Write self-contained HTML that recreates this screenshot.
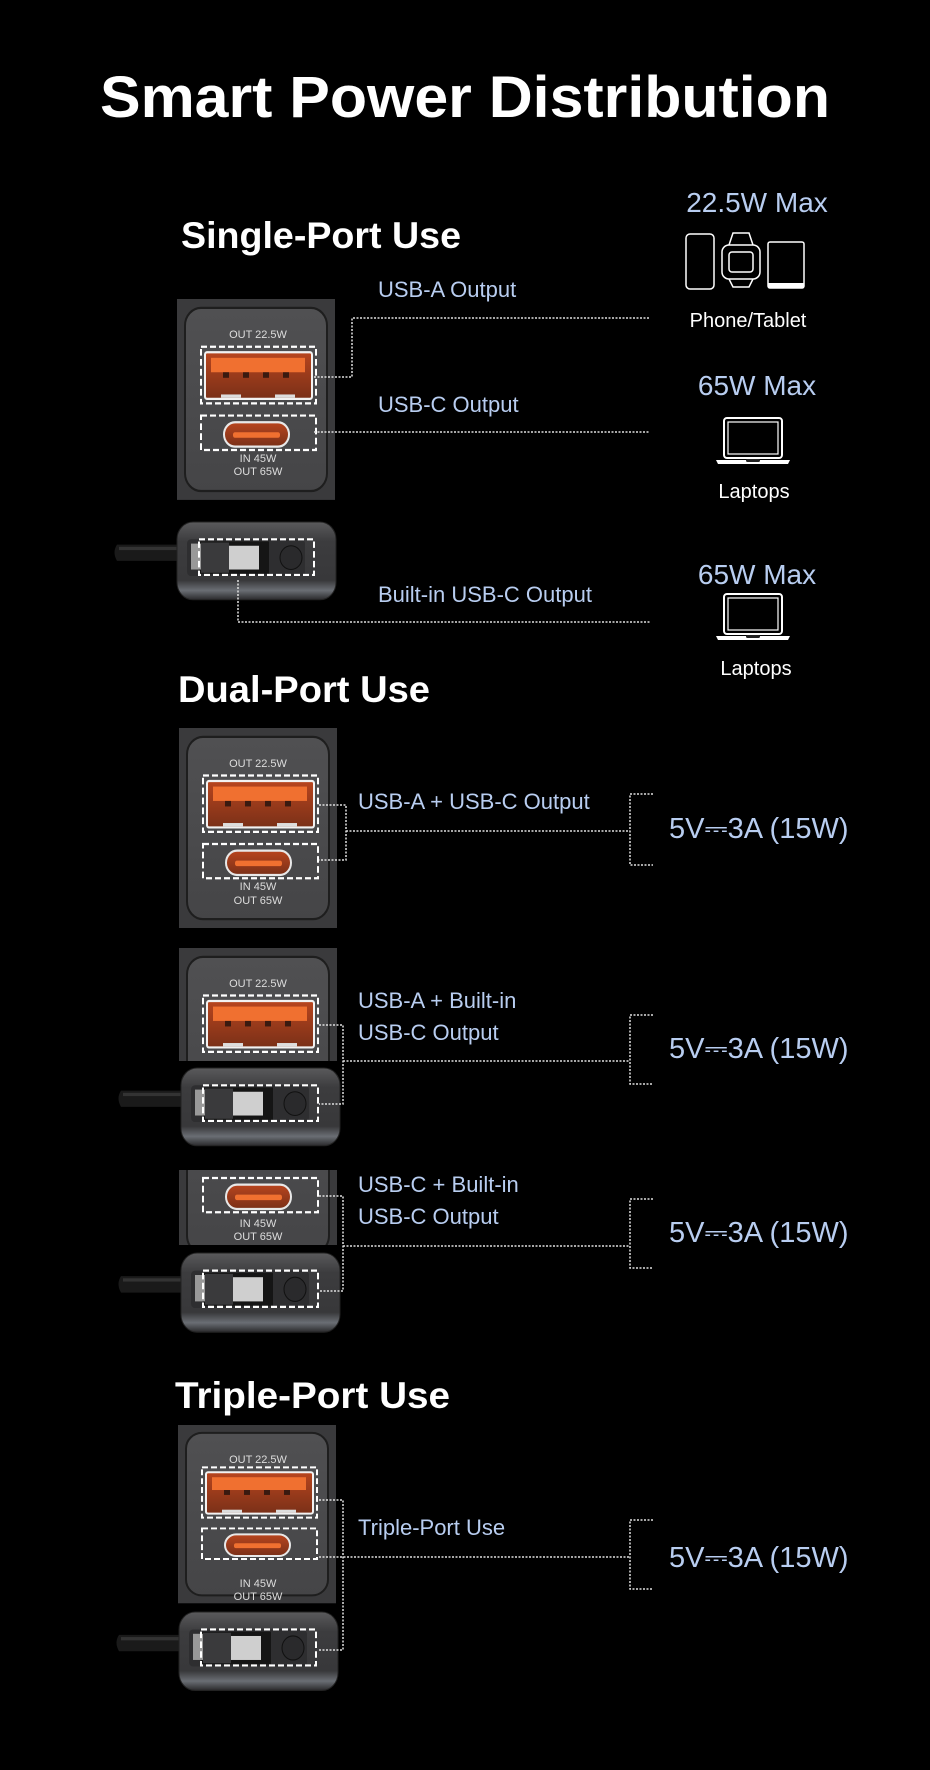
<!DOCTYPE html>
<html><head><meta charset="utf-8"><style>
html,body{margin:0;padding:0;background:#000;}
svg{display:block;}
text{font-family:"Liberation Sans","DejaVu Sans",sans-serif;}
</style></head><body>
<svg width="930" height="1770" viewBox="0 0 930 1770" xmlns="http://www.w3.org/2000/svg">
<defs>
  <linearGradient id="gpanel" x1="0" y1="0" x2="0" y2="1">
    <stop offset="0" stop-color="#505052"/><stop offset="1" stop-color="#454547"/>
  </linearGradient>
  <linearGradient id="gport" x1="0" y1="0" x2="0" y2="1">
    <stop offset="0" stop-color="#b8451e"/><stop offset="1" stop-color="#7a3018"/>
  </linearGradient>
  <linearGradient id="gbody" x1="0" y1="0" x2="0" y2="1">
    <stop offset="0" stop-color="#5a5a5c"/><stop offset="0.25" stop-color="#3c3c3e"/><stop offset="0.75" stop-color="#38383a"/><stop offset="0.88" stop-color="#6a6e74"/><stop offset="1" stop-color="#2a2a2c"/>
  </linearGradient>
  <g id="charger">
    <rect x="0" y="0" width="158" height="181" fill="#3a3a3c"/>
    <rect x="8" y="8" width="142" height="165" rx="16" fill="url(#gpanel)" stroke="#1e1e1e" stroke-width="2"/>
    <rect x="28" y="48" width="107" height="42" rx="2" fill="url(#gport)" stroke="#f2f2f2" stroke-width="2"/>
    <rect x="34" y="53" width="94" height="13" fill="#f07030"/>
    <g fill="#3a1a10"><rect x="46" y="66" width="6" height="5"/><rect x="66" y="66" width="6" height="5"/><rect x="86" y="66" width="6" height="5"/><rect x="106" y="66" width="6" height="5"/></g>
    <g fill="#ddd"><rect x="44" y="86" width="20" height="3"/><rect x="98" y="86" width="20" height="3"/></g>
    <rect x="47" y="111" width="65" height="22" rx="11" fill="url(#gport)" stroke="#e8e8e8" stroke-width="2"/>
    <rect x="56" y="120" width="47" height="5" rx="2" fill="#f07030"/>
    <g fill="none" stroke="#fff" stroke-width="2" stroke-dasharray="6 3">
      <rect x="24" y="43" width="115" height="51"/>
      <rect x="24" y="105" width="115" height="31"/>
    </g>
  </g>
  <g id="cable">
    <path d="M-60 21 Q-65 28 -60 36 L30 36 L30 21 Z" fill="#1a1a1a"/>
    <rect x="-58" y="23" width="88" height="3" fill="#333"/>
    <rect x="0" y="0" width="159" height="72" rx="16" fill="url(#gbody)" stroke="#222" stroke-width="1"/>
    <rect x="10" y="16" width="118" height="34" rx="4" fill="#2e2e30"/>
    <rect x="22" y="18" width="70" height="30" fill="#151515"/>
    <rect x="14" y="20" width="10" height="24" fill="#999"/>
    <rect x="24" y="19" width="28" height="28" fill="#3a3a3c"/>
    <rect x="52" y="22" width="30" height="22" fill="#cfcfcf"/>
    <circle cx="114" cy="33" r="11" fill="#2a2a2c" stroke="#111" stroke-width="1"/>
    <rect x="22" y="16" width="115" height="33" fill="none" stroke="#fff" stroke-width="2" stroke-dasharray="6 3"/>
  </g>
  <g id="laptop">
    <rect x="8" y="0" width="58" height="40" rx="3" fill="none" stroke="#fff" stroke-width="2"/>
    <rect x="12" y="4" width="50" height="32" fill="none" stroke="#fff" stroke-width="1.2"/>
    <path d="M0 42 L74 42 L72 46 L2 46 Z" fill="#fff"/>
    <rect x="30" y="41" width="14" height="3" rx="1.5" fill="#222"/>
  </g>
  <clipPath id="c2"><rect x="0" y="948" width="930" height="113"/></clipPath>
  <clipPath id="c3"><rect x="0" y="1170" width="930" height="75"/></clipPath>
</defs>

<text x="465" y="117" text-anchor="middle" font-size="58" font-weight="bold" fill="#fff" textLength="730" lengthAdjust="spacingAndGlyphs">Smart Power Distribution</text>

<!-- Single-Port -->
<text x="181" y="248" font-size="37" font-weight="bold" fill="#fff" textLength="280" lengthAdjust="spacingAndGlyphs">Single-Port Use</text>
<g transform="translate(177,299) scale(1,1.11)"><use href="#charger"/></g>
<g font-size="11" fill="#ddd" text-anchor="middle">
  <text x="258" y="338">OUT 22.5W</text><text x="258" y="462">IN 45W</text><text x="258" y="475">OUT 65W</text>
</g>
<g transform="translate(177,522) scale(1,1.08)"><use href="#cable"/></g>

<g fill="none" stroke="#e0e0e0" stroke-width="1.5" stroke-dasharray="2 1.5">
  <path d="M314 377 H352 V318 H650"/>
  <path d="M314 432 H650"/>
  <path d="M238 580 V622 H650"/>
</g>
<g font-size="22" fill="#b8cdf0">
  <text x="378" y="297">USB-A Output</text>
  <text x="378" y="412">USB-C Output</text>
  <text x="378" y="602">Built-in USB-C Output</text>
</g>
<g text-anchor="middle">
  <text x="757" y="212" font-size="28" fill="#b8cdf0">22.5W Max</text>
  <text x="748" y="327" font-size="20" fill="#fff">Phone/Tablet</text>
  <text x="757" y="395" font-size="28" fill="#b8cdf0">65W Max</text>
  <text x="754" y="498" font-size="20" fill="#fff">Laptops</text>
  <text x="757" y="584" font-size="28" fill="#b8cdf0">65W Max</text>
  <text x="756" y="675" font-size="20" fill="#fff">Laptops</text>
</g>
<g fill="none" stroke="#fff" stroke-width="1.5" transform="translate(0,3)">
  <rect x="686" y="231" width="28" height="55" rx="4"/>
  <rect x="722" y="242" width="38" height="34" rx="7"/>
  <rect x="729" y="249" width="24" height="20" rx="3"/>
  <path d="M729 242 L733 230 H749 L753 242 M729 276 L733 284 H749 L753 276"/>
  <rect x="768" y="239" width="36" height="46" rx="2"/>
</g>
<rect x="768" y="283" width="36" height="5" fill="#fff"/>
<use href="#laptop" transform="translate(716,418)"/>
<use href="#laptop" transform="translate(716,594)"/>

<!-- Dual-Port -->
<text x="178" y="702" font-size="37" font-weight="bold" fill="#fff" textLength="252" lengthAdjust="spacingAndGlyphs">Dual-Port Use</text>
<g transform="translate(179,728) scale(1,1.105)"><use href="#charger"/></g>
<g font-size="11" fill="#ddd" text-anchor="middle">
  <text x="258" y="767">OUT 22.5W</text><text x="258" y="890">IN 45W</text><text x="258" y="904">OUT 65W</text>
</g>

<g clip-path="url(#c2)"><g transform="translate(179,948) scale(1,1.105)"><use href="#charger"/></g></g>
<text x="258" y="987" font-size="11" fill="#ddd" text-anchor="middle">OUT 22.5W</text>
<g transform="translate(181,1068) scale(1,1.08)"><use href="#cable"/></g>

<g clip-path="url(#c3)"><g transform="translate(179,1062) scale(1,1.105)"><use href="#charger"/></g></g>
<g font-size="11" fill="#ddd" text-anchor="middle"><text x="258" y="1227">IN 45W</text><text x="258" y="1240">OUT 65W</text></g>
<g transform="translate(181,1253) scale(1,1.1)"><use href="#cable"/></g>

<!-- Triple -->
<text x="175" y="1408" font-size="37" font-weight="bold" fill="#fff" textLength="275" lengthAdjust="spacingAndGlyphs">Triple-Port Use</text>
<g transform="translate(178,1425) scale(1,0.985)"><use href="#charger"/></g>
<g font-size="11" fill="#ddd" text-anchor="middle">
  <text x="258" y="1463">OUT 22.5W</text><text x="258" y="1587">IN 45W</text><text x="258" y="1600">OUT 65W</text>
</g>
<g transform="translate(179,1612) scale(1,1.09)"><use href="#cable"/></g>

<g fill="none" stroke="#e0e0e0" stroke-width="1.5" stroke-dasharray="2 1.5">
  <path d="M319 805 H346 V860 H319 M346 831 H630 M653 794 H630 V865 H653"/>
  <path d="M319 1025 H343 V1104 H319 M343 1061 H630 M653 1015 H630 V1084 H653"/>
  <path d="M319 1196 H343 V1291 H319 M343 1246 H630 M653 1199 H630 V1268 H653"/>
  <path d="M319 1500 H343 V1650 H319 M319 1557 H630 M653 1520 H630 V1589 H653"/>
</g>
<g font-size="22" fill="#b8cdf0">
  <text x="358" y="809">USB-A + USB-C Output</text>
  <text x="358" y="1008">USB-A + Built-in</text>
  <text x="358" y="1040">USB-C Output</text>
  <text x="358" y="1192">USB-C + Built-in</text>
  <text x="358" y="1224">USB-C Output</text>
  <text x="358" y="1535">Triple-Port Use</text>
</g>
<g font-size="29" fill="#b8cdf0">
  <text x="669" y="838">5V⎓3A (15W)</text>
  <text x="669" y="1058">5V⎓3A (15W)</text>
  <text x="669" y="1242">5V⎓3A (15W)</text>
  <text x="669" y="1567">5V⎓3A (15W)</text>
</g>
</svg>
</body></html>
